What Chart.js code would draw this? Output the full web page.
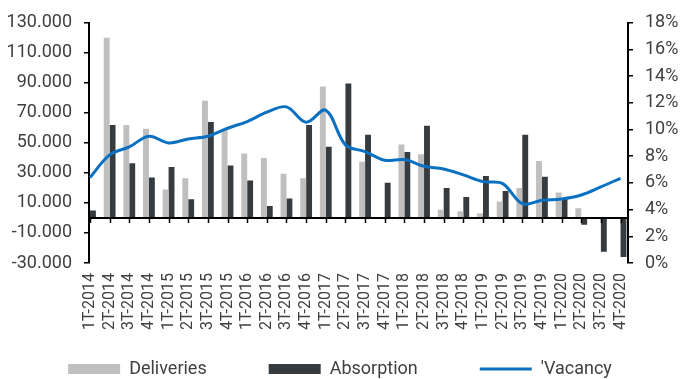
<!DOCTYPE html>
<html>
<head>
<meta charset="utf-8">
<script src="https://cdn.jsdelivr.net/npm/chart.js@4/dist/chart.umd.min.js"></script>
<style>
  html, body { margin: 0; padding: 0; background: #ffffff; }
  #wrap { width: 680px; height: 379px; }
</style>
</head>
<body>
<div id="wrap"><canvas id="c" width="680" height="379"></canvas></div>
<script>
// Quarterly office market: deliveries, net absorption (m²) and vacancy rate (%)
const quarters = [
  '1T-2014', '2T-2014', '3T-2014', '4T-2014',
  '1T-2015', '2T-2015', '3T-2015', '4T-2015',
  '1T-2016', '2T-2016', '3T-2016', '4T-2016',
  '1T-2017', '2T-2017', '3T-2017', '4T-2017',
  '1T-2018', '2T-2018', '3T-2018', '4T-2018',
  '1T-2019', '2T-2019', '3T-2019', '4T-2019',
  '1T-2020', '2T-2020', '3T-2020', '4T-2020'
];
const deliveries = [
  0, 120000, 62000, 59500,
  19000, 26500, 78000, 59000,
  43000, 40000, 29500, 26500,
  87500, 0, 37500, 0,
  49000, 42500, 5500, 4500,
  3000, 11000, 20000, 38000,
  17000, 6500, 0, 0
];
const absorption = [
  5000, 62000, 36500, 27000,
  34000, 12500, 64000, 35000,
  25000, 8000, 13000, 62000,
  47500, 89500, 55500, 23500,
  44000, 61500, 20000, 14000,
  28000, 18000, 55500, 27500,
  13000, -4500, -22500, -26000
];
const vacancy = [
  6.4, 8.1, 8.7, 9.5,
  9.0, 9.3, 9.5, 10.1,
  10.6, 11.3, 11.7, 10.55,
  11.45, 8.85, 8.35, 7.7,
  7.75, 7.25, 7.05, 6.6,
  6.1, 5.95, 4.45, 4.7,
  4.8, 5.1, 5.7, 6.35
];
const areaTicks = [-30000, -10000, 10000, 30000, 50000, 70000, 90000, 110000, 130000];
const rateTicks = [0, 2, 4, 6, 8, 10, 12, 14, 16, 18];

const TEXT = '#404040';
const LEGEND_GAP = 62;       // horizontal space between legend entries
const LEGEND_CENTER_Y = 369; // vertical centre of the legend row
Chart.defaults.font.family = 'Roboto, "Liberation Sans", sans-serif';
Chart.defaults.color = TEXT;

// thousands separated with a dot: 130000 -> "130.000"
function dotThousands(v) {
  const s = String(Math.abs(Math.round(v))).replace(/\B(?=(\d{3})+(?!\d))/g, '.');
  return (v < 0 ? '-' : '') + s;
}

const asPoints = arr => arr.map((v, i) => ({ x: i, y: v }));

// horizontal axis line at zero with small tick marks under each quarter
const zeroAxis = {
  id: 'zeroAxis',
  afterDatasetsDraw(chart) {
    const { ctx, chartArea, scales } = chart;
    const y0 = Math.round(scales.y.getPixelForValue(0));
    ctx.save();
    ctx.strokeStyle = '#000000';
    ctx.lineWidth = 2;
    ctx.beginPath();
    ctx.moveTo(chartArea.left, y0);
    ctx.lineTo(chartArea.right, y0);
    ctx.stroke();
    ctx.lineWidth = 1.5;
    ctx.beginPath();
    quarters.forEach((q, i) => {
      const px = Math.round(scales.x.getPixelForValue(i)) + 0.5;
      ctx.moveTo(px, y0);
      ctx.lineTo(px, y0 + 5);
    });
    ctx.stroke();
    ctx.restore();
  }
};

// the wide entry spacing also pads the legend vertically; lift the row back into place
const legendRow = {
  id: 'legendRow',
  afterLayout(chart) {
    const lg = chart.legend;
    if (!lg) return;
    lg.top = LEGEND_CENTER_Y - LEGEND_GAP - 9;
    lg.bottom = chart.height;
    lg.height = lg.bottom - lg.top;
  }
};

new Chart(document.getElementById('c'), {
  data: {
    datasets: [
      {
        type: 'bar',
        label: 'Deliveries',
        data: asPoints(deliveries),
        backgroundColor: '#bfbfbf',
        borderWidth: 0,
        yAxisID: 'y',
        order: 1
      },
      {
        type: 'bar',
        label: 'Absorption',
        data: asPoints(absorption),
        backgroundColor: '#353b3e',
        borderWidth: 0,
        yAxisID: 'y',
        order: 1
      },
      {
        type: 'line',
        label: "'Vacancy",
        data: asPoints(vacancy),
        borderColor: '#0a70c2',
        backgroundColor: '#0a70c2',
        borderWidth: 3,
        pointRadius: 0,
        tension: 0.35,
        yAxisID: 'y1',
        order: 0
      }
    ]
  },
  options: {
    responsive: false,
    animation: false,
    events: [],
    layout: { padding: { top: 16, left: 0, right: 0, bottom: 0 } },
    datasets: {
      bar: { categoryPercentage: 0.6, barPercentage: 1.0, grouped: true }
    },
    scales: {
      x: {
        type: 'linear',
        offset: false,
        min: -0.05,
        max: 27.38,
        afterBuildTicks: s => { s.ticks = quarters.map((q, i) => ({ value: i })); },
        afterFit: s => { s.height = 72; },
        grid: { display: false, drawTicks: false, tickLength: 0 },
        border: { display: false },
        ticks: {
          autoSkip: false,
          minRotation: 90,
          maxRotation: 90,
          padding: 10,
          font: { size: 16 },
          color: TEXT,
          callback: v => quarters[Math.round(v)]
        }
      },
      y: {
        type: 'linear',
        position: 'left',
        min: -30000,
        max: 130000,
        afterBuildTicks: s => { s.ticks = areaTicks.map(v => ({ value: v })); },
        afterFit: s => { s.width = 89; },
        grid: { drawOnChartArea: false, drawTicks: true, tickLength: 5, color: '#000000', lineWidth: 1.5 },
        border: { color: '#000000', width: 2 },
        ticks: { autoSkip: false, font: { size: 18 }, color: TEXT, padding: 12, callback: v => dotThousands(v) }
      },
      y1: {
        type: 'linear',
        position: 'right',
        min: 0,
        max: 18,
        afterBuildTicks: s => { s.ticks = rateTicks.map(v => ({ value: v })); },
        afterFit: s => { s.width = 52; },
        grid: { drawOnChartArea: false, drawTicks: true, tickLength: 5, color: '#000000', lineWidth: 1.5 },
        border: { color: '#000000', width: 2 },
        ticks: { autoSkip: false, font: { size: 18 }, color: TEXT, padding: 12, callback: v => v + '%' }
      }
    },
    plugins: {
      tooltip: { enabled: false },
      legend: {
        position: 'bottom',
        maxHeight: 44,
        labels: {
          usePointStyle: true,
          pointStyleWidth: 52,
          boxHeight: 10,
          padding: LEGEND_GAP,
          color: TEXT,
          font: { size: 18 },
          generateLabels(chart) {
            return chart.data.datasets.map((ds, i) => ({
              text: ds.label,
              datasetIndex: i,
              fillStyle: ds.backgroundColor,
              strokeStyle: ds.type === 'line' ? ds.borderColor : ds.backgroundColor,
              lineWidth: ds.type === 'line' ? 3 : 0,
              pointStyle: ds.type === 'line' ? 'line' : 'rect',
              fontColor: TEXT,
              hidden: false
            }));
          }
        }
      }
    }
  },
  plugins: [zeroAxis, legendRow]
});
</script>
</body>
</html>
